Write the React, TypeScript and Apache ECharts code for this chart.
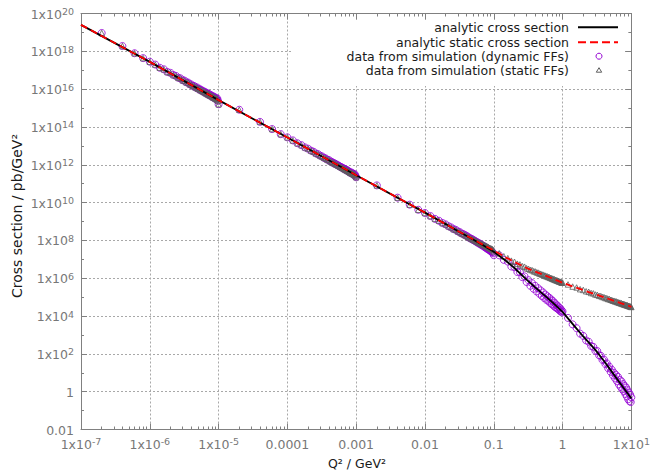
import React, { useEffect, useRef } from 'react';
import * as echarts from 'echarts';

// ---------- data ----------
// Q² sampling of the simulation: multiplier lists and the unit of each segment
const K_LOW = [2, 4, 6, 8, 10, 12, 14, 16, 18, 20, 22, 24, 26, 28, 30, 32, 34, 36, 38, 40, 42, 44, 46, 48, 50, 52, 54, 56, 58, 60, 62, 64, 66, 68, 70, 72, 74, 76, 78, 80, 82, 84, 86, 88, 90, 92, 94, 96, 98, 100];
const K_HIGH = [12, 14, 16, 18, 20, 22, 24, 26, 28, 30, 32, 34, 36, 38, 40, 42, 44, 46, 48, 50, 52, 54, 56, 58, 60, 62, 64, 66, 68, 70, 72, 74, 76, 78, 80, 82, 84, 86, 88, 90, 92, 94, 96, 98, 100];
const UNIT_SEG1 = 1e-7;
const UNIT_SEG2 = 1e-5;
const UNIT_SEG3 = 1e-3;
const UNIT_SEG4 = 1e-2;
const UNIT_SEG5 = 1e-1;

// log10(cross section / pb/GeV²) of the simulated points
const SIM_SEG1 = [18.97, 18.28, 17.90, 17.64, 17.45, 17.30, 17.13, 17.05, 16.91, 16.86, 16.75, 16.70, 16.60, 16.57, 16.47, 16.45, 16.36, 16.35, 16.26, 16.25, 16.17, 16.17, 16.09, 16.10, 16.02, 16.03, 15.95, 15.96, 15.89, 15.90, 15.83, 15.85, 15.77, 15.79, 15.72, 15.75, 15.67, 15.70, 15.63, 15.65, 15.57, 15.62, 15.54, 15.57, 15.49, 15.53, 15.45, 15.50, 15.38, 15.20];
const SIM_SEG2 = [14.91, 14.27, 13.89, 13.62, 13.45, 13.29, 13.14, 13.04, 12.92, 12.85, 12.75, 12.69, 12.60, 12.56, 12.48, 12.44, 12.37, 12.34, 12.27, 12.25, 12.18, 12.16, 12.10, 12.09, 12.03, 12.02, 11.97, 11.95, 11.90, 11.89, 11.84, 11.84, 11.78, 11.78, 11.73, 11.74, 11.68, 11.69, 11.64, 11.62, 11.58, 11.60, 11.54, 11.56, 11.50, 11.52, 11.46, 11.49, 11.40, 11.34];
const DYN_SEG3 = [10.91, 10.26, 9.89, 9.62, 9.45, 9.29, 9.14, 9.04, 8.92, 8.85, 8.75, 8.69, 8.60, 8.56, 8.48, 8.44, 8.37, 8.34, 8.28, 8.25, 8.18, 8.15, 8.09, 8.08, 8.02, 8.00, 7.95, 7.93, 7.88, 7.87, 7.82, 7.81, 7.76, 7.75, 7.70, 7.70, 7.64, 7.64, 7.58, 7.59, 7.53, 7.54, 7.48, 7.49, 7.43, 7.44, 7.38, 7.39, 7.32, 7.22];
const STAT_SEG3 = [10.91, 10.26, 9.89, 9.62, 9.45, 9.29, 9.14, 9.04, 8.92, 8.85, 8.75, 8.69, 8.60, 8.56, 8.48, 8.44, 8.37, 8.34, 8.28, 8.25, 8.19, 8.16, 8.11, 8.09, 8.05, 8.02, 7.99, 7.96, 7.92, 7.90, 7.87, 7.85, 7.82, 7.80, 7.78, 7.76, 7.73, 7.72, 7.69, 7.68, 7.65, 7.64, 7.61, 7.60, 7.57, 7.57, 7.54, 7.53, 7.49, 7.42];
const DYN_SEG4 = [7.21, 6.97, 6.88, 6.62, 6.58, 6.33, 6.32, 6.06, 6.10, 5.80, 5.90, 5.60, 5.74, 5.44, 5.60, 5.30, 5.47, 5.18, 5.36, 5.06, 5.25, 4.96, 5.14, 4.86, 5.05, 4.80, 4.97, 4.70, 4.88, 4.62, 4.80, 4.55, 4.71, 4.47, 4.62, 4.42, 4.55, 4.36, 4.47, 4.30, 4.41, 4.24, 4.33, 4.19, 4.25];
const STAT_SEG4 = [7.32, 7.16, 7.06, 6.93, 6.87, 6.77, 6.73, 6.64, 6.61, 6.53, 6.50, 6.44, 6.43, 6.37, 6.36, 6.31, 6.30, 6.25, 6.24, 6.20, 6.19, 6.15, 6.14, 6.10, 6.10, 6.06, 6.06, 6.02, 6.02, 5.98, 5.98, 5.94, 5.95, 5.91, 5.91, 5.88, 5.88, 5.85, 5.85, 5.82, 5.82, 5.79, 5.80, 5.76, 5.77];
const DYN_SEG5 = [3.90, 3.56, 3.36, 3.07, 2.95, 2.71, 2.64, 2.42, 2.37, 2.16, 2.15, 1.92, 1.90, 1.68, 1.70, 1.46, 1.50, 1.24, 1.32, 1.05, 1.16, 0.86, 1.00, 0.70, 0.88, 0.55, 0.78, 0.38, 0.62, 0.25, 0.55, 0.12, 0.40, 0.02, 0.30, -0.12, 0.22, -0.25, 0.08, -0.40, -0.05, -0.50, -0.15, -0.55, -0.30];
const STAT_SEG5 = [5.67, 5.56, 5.51, 5.42, 5.38, 5.31, 5.28, 5.22, 5.20, 5.14, 5.12, 5.07, 5.06, 5.01, 5.00, 4.95, 4.95, 4.90, 4.90, 4.86, 4.85, 4.81, 4.81, 4.77, 4.78, 4.74, 4.74, 4.70, 4.71, 4.67, 4.68, 4.64, 4.65, 4.61, 4.62, 4.59, 4.59, 4.56, 4.57, 4.54, 4.54, 4.51, 4.52, 4.49, 4.48];

// analytic curves, log10(cross section)
const LINE_Q2 = [1e-7, 1e-6, 1e-5, 1e-4, 1e-3, 1e-2, 0.02, 0.03, 0.05, 0.07, 0.1, 0.15, 0.2, 0.3, 0.4, 0.5, 0.7, 1, 1.5, 2, 3, 4, 5, 7, 10];
const DYN_LINE = [19.40, 17.44, 15.42, 13.44, 11.45, 9.47, 8.86, 8.50, 8.05, 7.74, 7.40, 6.92, 6.54, 5.93, 5.52, 5.21, 4.75, 4.22, 3.45, 2.92, 2.21, 1.62, 1.14, 0.41, -0.36];
const STAT_LINE = [19.40, 17.44, 15.42, 13.44, 11.45, 9.47, 8.86, 8.50, 8.06, 7.77, 7.47, 7.10, 6.86, 6.54, 6.35, 6.21, 6.00, 5.76, 5.53, 5.37, 5.15, 4.99, 4.87, 4.68, 4.49];

const LEGEND_LABELS = [
  'analytic cross section',
  'analytic static cross section',
  'data from simulation (dynamic FFs)',
  'data from simulation (static FFs)',
];
const X_PLAIN: Record<string, string> = { '-4': '0.0001', '-3': '0.001', '-2': '0.01', '-1': '0.1', '0': '1' };
const Y_PLAIN: Record<string, string> = { '-2': '0.01', '0': '1' };

// ---------- styling ----------
const FONT = 'DejaVu Sans';
const AXIS_GRAY = '#808080';
const LABEL_GRAY = '#777777';
const GRID_GRAY = '#a8a8a8';
const PURPLE = '#9400d3';
const TRI_GRAY = '#5e5e5e';

function pts(ks: number[], unit: number, vals: number[]) {
  return ks.map((k, i) => [k * unit, vals[i]]);
}

const rich = {
  b: { fontSize: 12.5, color: LABEL_GRAY, fontFamily: FONT, lineHeight: 14, verticalAlign: 'bottom' },
  s: { fontSize: 9.5, color: LABEL_GRAY, fontFamily: FONT, lineHeight: 9, verticalAlign: 'top', padding: [0, 0, 6, 0] },
};

function xLabel(v: number) {
  const e = Math.round(Math.log10(v));
  const p = X_PLAIN[String(e)];
  return p ? `{b|${p}}` : `{b|1x10}{s|${e}}`;
}
function yLabel(v: number) {
  const e = Math.round(v);
  const p = Y_PLAIN[String(e)];
  return p ? `{b|${p}}` : `{b|1x10}{s|${e}}`;
}

export default function App() {
  const ref = useRef<HTMLDivElement>(null);
  useEffect(() => {
    document.body.style.margin = '0';
    if (!ref.current) return;
    const chart = echarts.init(ref.current, undefined, { renderer: 'svg' });

    const dyn = [
      ...pts(K_LOW, UNIT_SEG1, SIM_SEG1),
      ...pts(K_LOW, UNIT_SEG2, SIM_SEG2),
      ...pts(K_LOW, UNIT_SEG3, DYN_SEG3),
      ...pts(K_HIGH, UNIT_SEG4, DYN_SEG4),
      ...pts(K_HIGH, UNIT_SEG5, DYN_SEG5),
    ];
    const stat = [
      ...pts(K_LOW, UNIT_SEG1, SIM_SEG1),
      ...pts(K_LOW, UNIT_SEG2, SIM_SEG2),
      ...pts(K_LOW, UNIT_SEG3, STAT_SEG3),
      ...pts(K_HIGH, UNIT_SEG4, STAT_SEG4),
      ...pts(K_HIGH, UNIT_SEG5, STAT_SEG5),
    ];

    const axisLine = { show: true, onZero: false, lineStyle: { color: AXIS_GRAY, width: 1 } };
    const tick = { show: true, inside: true, length: 6, lineStyle: { color: AXIS_GRAY, width: 1 } };
    const xMinor = { show: true, splitNumber: 9, length: 3, lineStyle: { color: AXIS_GRAY, width: 1 } };
    const yMinor = { show: true, splitNumber: 2, length: 3, lineStyle: { color: AXIS_GRAY, width: 1 } };
    const split = { show: true, lineStyle: { color: GRID_GRAY, width: 1, type: [2, 2] } };

    const legendX = 569;
    const rows = [27.3, 42.2, 56.2, 70.3];

    chart.setOption({
      animation: false,
      grid: { left: 81, right: 19, top: 13.5, bottom: 42.5 },
      xAxis: [
        {
          type: 'log', logBase: 10, min: 1e-7, max: 10, position: 'bottom',
          axisLine, axisTick: tick, minorTick: xMinor,
          axisLabel: { margin: 7, formatter: xLabel, rich, showMinLabel: true, showMaxLabel: true },
          splitLine: split,
        },
        {
          type: 'log', logBase: 10, min: 1e-7, max: 10, position: 'top',
          axisLine, axisTick: tick, minorTick: xMinor,
          axisLabel: { show: false }, splitLine: { show: false },
        },
      ],
      yAxis: [
        {
          type: 'value', min: -2, max: 20, interval: 2, position: 'left',
          axisLine, axisTick: tick, minorTick: yMinor,
          axisLabel: { margin: 7, formatter: yLabel, rich },
          splitLine: split,
        },
        {
          type: 'value', min: -2, max: 20, interval: 2, position: 'right',
          axisLine, axisTick: tick, minorTick: yMinor,
          axisLabel: { show: false }, splitLine: { show: false },
        },
      ],
      series: [
        {
          name: LEGEND_LABELS[0], type: 'line', xAxisIndex: 0, yAxisIndex: 0,
          data: LINE_Q2.map((q, i) => [q, DYN_LINE[i]]),
          symbol: 'none', lineStyle: { color: '#000000', width: 1.8 },
        },
        {
          name: LEGEND_LABELS[1], type: 'line', xAxisIndex: 0, yAxisIndex: 0,
          data: LINE_Q2.map((q, i) => [q, STAT_LINE[i]]),
          symbol: 'none', lineStyle: { color: '#ff0000', width: 1.8, type: [7, 4] },
        },
        {
          name: LEGEND_LABELS[2], type: 'scatter', xAxisIndex: 0, yAxisIndex: 0,
          data: dyn, symbol: 'circle', symbolSize: 7,
          itemStyle: { color: 'rgba(0,0,0,0)', borderColor: PURPLE, borderWidth: 1 },
        },
        {
          name: LEGEND_LABELS[3], type: 'scatter', xAxisIndex: 0, yAxisIndex: 0,
          data: stat, symbol: 'triangle', symbolSize: 5.5,
          itemStyle: { color: 'rgba(0,0,0,0)', borderColor: TRI_GRAY, borderWidth: 1 },
        },
      ],
      graphic: [
        { type: 'rect', z: 1, shape: { x: 293, y: 20, width: 330, height: 66 }, style: { fill: '#ffffff' } },
        ...LEGEND_LABELS.map((t, i) => ({
          type: 'text', z: 10, x: legendX, y: rows[i],
          style: { text: t, fill: '#1a1a1a', fontSize: 12.5, fontFamily: FONT, align: 'right', verticalAlign: 'middle' },
        })),
        { type: 'line', z: 10, shape: { x1: 578, y1: rows[0], x2: 618, y2: rows[0] }, style: { stroke: '#000000', lineWidth: 2 } },
        { type: 'line', z: 10, shape: { x1: 578, y1: rows[1], x2: 618, y2: rows[1] }, style: { stroke: '#ff0000', lineWidth: 2, lineDash: [8, 4] } },
        { type: 'circle', z: 10, shape: { cx: 599, cy: rows[2], r: 3 }, style: { fill: 'none', stroke: PURPLE, lineWidth: 1 } },
        { type: 'polygon', z: 10, shape: { points: [[599, rows[3] - 2.6], [596.3, rows[3] + 1.9], [601.7, rows[3] + 1.9]] }, style: { fill: 'none', stroke: TRI_GRAY, lineWidth: 1 } },
        {
          type: 'text', z: 10, x: 357, y: 463,
          style: { text: 'Q² / GeV²', fill: '#1a1a1a', fontSize: 12.5, fontFamily: FONT, align: 'center', verticalAlign: 'middle' },
        },
        {
          type: 'text', z: 10, x: 17, y: 216, rotation: Math.PI / 2,
          style: { text: 'Cross section / pb/GeV²', fill: '#1a1a1a', fontSize: 14, fontFamily: FONT, align: 'center', verticalAlign: 'middle' },
        },
      ],
    });
    return () => chart.dispose();
  }, []);
  return <div ref={ref} style={{ width: 653, height: 472 }} />;
}
